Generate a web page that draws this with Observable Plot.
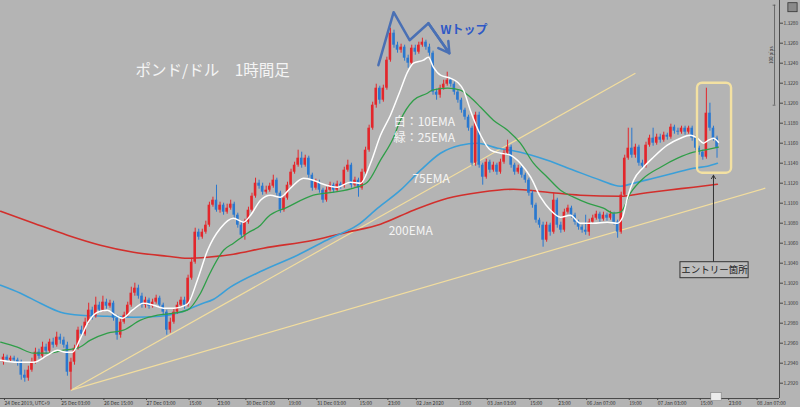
<!DOCTYPE html>
<html><head><meta charset="utf-8">
<script src="https://cdn.jsdelivr.net/npm/d3@7"></script>
<script src="https://cdn.jsdelivr.net/npm/@observablehq/plot@0.6"></script>
<style>
html,body{margin:0;padding:0;background:#b4b4b4;overflow:hidden}
svg{display:block}
</style></head><body><div id="chart"></div>
<script>
// GBP/USD hourly candles (prices)
const open = [1.2941,1.2946,1.2943,1.2945,1.2943,1.2941,1.2928,1.2925,1.2933,1.2941,
1.2951,1.2947,1.2956,1.2952,1.2961,1.2958,1.2966,1.2963,1.2958,1.2931,
1.2941,1.2955,1.2973,1.2969,1.2981,1.2993,1.2987,1.2998,1.2993,1.3001,
1.2997,1.3000,1.2985,1.2968,1.2981,1.2988,1.2998,1.3010,1.3015,1.3007,
1.2998,1.3003,1.2997,1.3001,1.3005,1.2998,1.2991,1.2973,1.2981,1.2991,
1.2998,1.3003,1.2998,1.3025,1.3041,1.3071,1.3066,1.3071,1.3078,1.3098,
1.3103,1.3093,1.3098,1.3091,1.3095,1.3099,1.3088,1.3078,1.3068,1.3081,
1.3093,1.3107,1.3120,1.3117,1.3111,1.3113,1.3117,1.3123,1.3110,1.3093,
1.3105,1.3118,1.3131,1.3138,1.3145,1.3138,1.3145,1.3128,1.3115,1.3121,
1.3113,1.3103,1.3113,1.3118,1.3113,1.3119,1.3117,1.3133,1.3138,1.3118,
1.3123,1.3115,1.3131,1.3153,1.3175,1.3198,1.3215,1.3203,1.3215,1.3243,
1.3270,1.3258,1.3253,1.3256,1.3245,1.3240,1.3255,1.3251,1.3258,1.3261,
1.3256,1.3250,1.3211,1.3208,1.3215,1.3219,1.3223,1.3219,1.3211,1.3203,
1.3193,1.3186,1.3175,1.3140,1.3188,1.3138,1.3126,1.3141,1.3133,1.3138,
1.3131,1.3141,1.3150,1.3156,1.3138,1.3131,1.3135,1.3128,1.3123,1.3110,
1.3098,1.3083,1.3078,1.3063,1.3078,1.3071,1.3103,1.3078,1.3073,1.3091,
1.3095,1.3088,1.3081,1.3076,1.3073,1.3071,1.3081,1.3085,1.3089,1.3084,
1.3088,1.3085,1.3089,1.3081,1.3071,1.3108,1.3145,1.3155,1.3148,1.3156,
1.3140,1.3137,1.3158,1.3165,1.3160,1.3166,1.3163,1.3168,1.3166,1.3176,
1.3172,1.3171,1.3175,1.3171,1.3175,1.3165,1.3155,1.3151,1.3146,1.3190,
1.3175,1.3165];
const high = [1.2949,1.2948,1.2947,1.2947,1.2945,1.2943,1.2933,1.2937,1.2945,1.2955,
1.2954,1.2961,1.2959,1.2964,1.2965,1.2971,1.2969,1.2966,1.2961,1.2945,
1.2958,1.2976,1.2977,1.2985,1.3000,1.2996,1.3006,1.3001,1.3007,1.3004,
1.3003,1.3002,1.2988,1.2984,1.2991,1.3001,1.3016,1.3020,1.3018,1.3010,
1.3006,1.3005,1.3004,1.3008,1.3007,1.3000,1.2993,1.2985,1.2994,1.3001,
1.3006,1.3006,1.3028,1.3045,1.3075,1.3074,1.3074,1.3082,1.3101,1.3106,
1.3118,1.3101,1.3100,1.3099,1.3103,1.3101,1.3090,1.3081,1.3084,1.3096,
1.3110,1.3125,1.3123,1.3120,1.3117,1.3120,1.3128,1.3125,1.3112,1.3108,
1.3121,1.3134,1.3141,1.3153,1.3151,1.3148,1.3147,1.3130,1.3124,1.3123,
1.3115,1.3116,1.3121,1.3120,1.3122,1.3121,1.3136,1.3143,1.3140,1.3126,
1.3125,1.3134,1.3156,1.3178,1.3201,1.3219,1.3217,1.3218,1.3246,1.3275,
1.3273,1.3261,1.3259,1.3258,1.3248,1.3258,1.3258,1.3261,1.3265,1.3263,
1.3259,1.3252,1.3214,1.3218,1.3223,1.3231,1.3225,1.3221,1.3213,1.3205,
1.3195,1.3188,1.3177,1.3191,1.3191,1.3140,1.3144,1.3143,1.3141,1.3140,
1.3144,1.3153,1.3163,1.3158,1.3140,1.3138,1.3137,1.3130,1.3125,1.3112,
1.3100,1.3085,1.3081,1.3081,1.3080,1.3110,1.3105,1.3081,1.3094,1.3098,
1.3097,1.3090,1.3083,1.3078,1.3088,1.3084,1.3088,1.3092,1.3091,1.3091,
1.3090,1.3092,1.3091,1.3083,1.3111,1.3148,1.3175,1.3175,1.3159,1.3158,
1.3143,1.3161,1.3168,1.3175,1.3169,1.3169,1.3171,1.3170,1.3179,1.3178,
1.3175,1.3177,1.3177,1.3177,1.3177,1.3167,1.3157,1.3153,1.3215,1.3200,
1.3177,1.3167];
const low = [1.2938,1.2941,1.2941,1.2940,1.2937,1.2923,1.2921,1.2922,1.2931,1.2939,
1.2944,1.2945,1.2949,1.2950,1.2955,1.2956,1.2959,1.2955,1.2927,1.2913,
1.2938,1.2953,1.2966,1.2967,1.2979,1.2983,1.2985,1.2990,1.2991,1.2994,
1.2995,1.2982,1.2963,1.2965,1.2979,1.2986,1.2996,1.3007,1.3004,1.2995,
1.2995,1.2994,1.2995,1.2999,1.2995,1.2988,1.2968,1.2970,1.2979,1.2989,
1.2996,1.2994,1.2996,1.3023,1.3039,1.3063,1.3064,1.3069,1.3076,1.3096,
1.3091,1.3090,1.3088,1.3089,1.3093,1.3085,1.3075,1.3065,1.3063,1.3079,
1.3091,1.3105,1.3114,1.3108,1.3109,1.3111,1.3115,1.3107,1.3090,1.3091,
1.3103,1.3116,1.3129,1.3136,1.3135,1.3136,1.3125,1.3112,1.3113,1.3110,
1.3100,1.3101,1.3111,1.3110,1.3111,1.3114,1.3115,1.3131,1.3115,1.3116,
1.3106,1.3113,1.3129,1.3151,1.3173,1.3195,1.3199,1.3201,1.3213,1.3241,
1.3255,1.3250,1.3250,1.3242,1.3235,1.3238,1.3248,1.3249,1.3256,1.3253,
1.3247,1.3208,1.3203,1.3205,1.3213,1.3217,1.3216,1.3208,1.3200,1.3190,
1.3183,1.3172,1.3137,1.3137,1.3135,1.3118,1.3124,1.3130,1.3131,1.3128,
1.3129,1.3139,1.3148,1.3135,1.3128,1.3129,1.3125,1.3120,1.3107,1.3095,
1.3080,1.3075,1.3056,1.3061,1.3067,1.3069,1.3075,1.3070,1.3071,1.3089,
1.3085,1.3078,1.3073,1.3070,1.3068,1.3067,1.3079,1.3083,1.3081,1.3082,
1.3082,1.3083,1.3078,1.3065,1.3069,1.3106,1.3143,1.3145,1.3145,1.3137,
1.3134,1.3135,1.3156,1.3157,1.3158,1.3160,1.3161,1.3163,1.3164,1.3169,
1.3168,1.3169,1.3168,1.3169,1.3162,1.3152,1.3148,1.3143,1.3144,1.3172,
1.3162,1.3145];
const close = [1.2946,1.2943,1.2945,1.2943,1.2941,1.2928,1.2925,1.2933,1.2941,1.2951,
1.2947,1.2956,1.2952,1.2961,1.2958,1.2966,1.2963,1.2958,1.2931,1.2941,
1.2955,1.2973,1.2969,1.2981,1.2993,1.2987,1.2998,1.2993,1.3001,1.2997,
1.3000,1.2985,1.2968,1.2981,1.2988,1.2998,1.3010,1.3015,1.3007,1.2998,
1.3003,1.2997,1.3001,1.3005,1.2998,1.2991,1.2973,1.2981,1.2991,1.2998,
1.3003,1.2998,1.3025,1.3041,1.3071,1.3066,1.3071,1.3078,1.3098,1.3103,
1.3093,1.3098,1.3091,1.3095,1.3099,1.3088,1.3078,1.3068,1.3081,1.3093,
1.3107,1.3120,1.3117,1.3111,1.3113,1.3117,1.3123,1.3110,1.3093,1.3105,
1.3118,1.3131,1.3138,1.3145,1.3138,1.3145,1.3128,1.3115,1.3121,1.3113,
1.3103,1.3113,1.3118,1.3113,1.3119,1.3117,1.3133,1.3138,1.3118,1.3123,
1.3115,1.3131,1.3153,1.3175,1.3198,1.3215,1.3203,1.3215,1.3243,1.3270,
1.3258,1.3253,1.3256,1.3245,1.3240,1.3255,1.3251,1.3258,1.3261,1.3256,
1.3250,1.3211,1.3208,1.3215,1.3219,1.3223,1.3219,1.3211,1.3203,1.3193,
1.3186,1.3175,1.3140,1.3188,1.3138,1.3126,1.3141,1.3133,1.3138,1.3131,
1.3141,1.3150,1.3156,1.3138,1.3131,1.3135,1.3128,1.3123,1.3110,1.3098,
1.3083,1.3078,1.3063,1.3078,1.3071,1.3103,1.3078,1.3073,1.3091,1.3095,
1.3088,1.3081,1.3076,1.3073,1.3071,1.3081,1.3085,1.3089,1.3084,1.3088,
1.3085,1.3089,1.3081,1.3071,1.3108,1.3145,1.3155,1.3148,1.3156,1.3140,
1.3137,1.3158,1.3165,1.3160,1.3166,1.3163,1.3168,1.3166,1.3176,1.3172,
1.3171,1.3175,1.3171,1.3175,1.3165,1.3155,1.3151,1.3146,1.3190,1.3175,
1.3165,1.3155];

// EMA lines (candle index, price)
const ema10X = [-0.8,3.9,8.5,12.4,15.2,17.5,19.4,21.7,23.7,26.5,29.3,31.5,33.5,36.3,39.4,42.3,45.1,47.9,51.8,54.6,57.5,61.1,64.8,67.6,69.6,72.4,75.2,78.0,80.8,84.5,87.3,89.3,94.1,97.7,100.6,103.4,106.2,109.0,111.8,113.8,115.5,118.3,119.7,121.1,123.1,125.9,127.9,129.6,131.5,134.4,137.2,140.0,142.8,145.6,148.5,151.3,154.1,156.9,159.7,162.5,166.2,170.1,172.9,174.4,175.8,177.5,180.3,183.1,187.0,190.7,193.5,195.5,197.2,198.6,200.0,201.4];
const ema10 = [1.2943,1.2941,1.2941,1.2948,1.2953,1.2951,1.2951,1.2965,1.2980,1.2991,1.2993,1.2988,1.2985,1.2993,1.3000,1.2998,1.2995,1.2995,1.2999,1.3023,1.3053,1.3075,1.3085,1.3081,1.3088,1.3103,1.3108,1.3106,1.3115,1.3125,1.3123,1.3120,1.3116,1.3121,1.3120,1.3140,1.3168,1.3188,1.3213,1.3231,1.3240,1.3243,1.3246,1.3236,1.3228,1.3225,1.3221,1.3213,1.3193,1.3168,1.3153,1.3150,1.3148,1.3140,1.3126,1.3106,1.3093,1.3086,1.3088,1.3080,1.3080,1.3081,1.3080,1.3086,1.3106,1.3123,1.3136,1.3146,1.3158,1.3165,1.3168,1.3165,1.3160,1.3163,1.3165,1.3161];
const ema25X = [-0.8,3.9,8.5,12.4,16.9,20.8,24.5,29.3,33.8,38.6,43.4,47.9,51.8,55.5,58.3,62.0,64.8,68.7,72.4,74.4,80.0,87.3,93.0,98.6,102.5,106.2,109.9,111.8,115.5,119.4,120.8,125.1,128.7,131.5,134.4,138.0,142.0,145.6,149.3,153.2,156.9,160.6,164.5,169.0,171.8,173.8,176.6,180.3,185.1,189.9,194.4,197.2,201.4];
const ema25 = [1.2961,1.2956,1.2950,1.2950,1.2953,1.2955,1.2963,1.2970,1.2973,1.2983,1.2988,1.2990,1.2993,1.3010,1.3031,1.3053,1.3060,1.3070,1.3078,1.3086,1.3096,1.3108,1.3111,1.3115,1.3121,1.3143,1.3166,1.3183,1.3203,1.3210,1.3213,1.3215,1.3213,1.3206,1.3196,1.3183,1.3173,1.3160,1.3140,1.3126,1.3113,1.3106,1.3100,1.3095,1.3090,1.3091,1.3110,1.3125,1.3136,1.3145,1.3151,1.3153,1.3156];
const ema75X = [-0.8,4.8,10.4,16.1,21.7,29.3,36.6,44.2,49.9,55.5,59.2,63.9,73.2,82.8,92.1,99.7,105.4,111.8,117.5,123.1,128.7,133.5,139.2,145.6,153.2,160.6,168.2,173.8,177.5,183.1,188.7,194.4,198.3,201.1];
const ema75 = [1.3018,1.3010,1.3000,1.2991,1.2988,1.2987,1.2986,1.2987,1.2991,1.2999,1.3004,1.3016,1.3033,1.3048,1.3065,1.3078,1.3095,1.3113,1.3133,1.3150,1.3158,1.3160,1.3155,1.3151,1.3143,1.3133,1.3123,1.3117,1.3120,1.3125,1.3130,1.3135,1.3137,1.3140];
const ema200X = [-0.8,8.5,18.0,27.3,36.6,46.2,51.8,57.5,64.8,73.2,87.3,96.9,106.2,115.5,125.1,134.4,143.7,153.2,162.5,173.8,180.3,187.0,194.4,201.1];
const ema200 = [1.3092,1.3080,1.3068,1.3058,1.3051,1.3047,1.3045,1.3046,1.3049,1.3055,1.3063,1.3071,1.3079,1.3093,1.3105,1.3111,1.3114,1.3111,1.3108,1.3107,1.3110,1.3113,1.3116,1.3119];

// axis ticks
const xTickIdx = [0,16,28,40,52,60,68,80,88,100,108,116,128,136,148,156,164,176,184,196,204,212];
const xTickLabels = ["24 Dec 2019, UTC+9","25 Dec 03:00","26 Dec 15:00","27 Dec 03:00","15:00","23:00","30 Dec 07:00","19:00","31 Dec 03:00","15:00","23:00","02 Jan 2020","19:00","03 Jan 03:00","15:00","23:00","06 Jan 07:00","19:00","07 Jan 03:00","15:00","23:00","08 Jan 07:00"];
const yTicks = [1.2920,1.2940,1.2960,1.2980,1.3000,1.3020,1.3040,1.3060,1.3080,1.3100,1.3120,1.3140,1.3160,1.3180,1.3200,1.3220,1.3240,1.3260,1.3280];

// trend lines & annotation anchors (candle index, price)
const trendLines = [
  {x1: 19, y1: 1.2913, x2: 178, y2: 1.3230},
  {x1: 19, y1: 1.2913, x2: 214.6, y2: 1.3115}
];
const wTopX = [105.6, 109.9, 114.4, 119.7, 125.6];
const wTopY = [1.3238, 1.3291, 1.3263, 1.3280, 1.3250];

const XMIN = -0.845, XMAX = 218.6, YMIN = 1.29047, YMAX = 1.33027;
const RED = "#e3262b", BLUE = "#2a78cf";

const candles = d3.range(close.length).map(i => ({i, o: open[i], h: high[i], l: low[i], c: close[i]}));
const col = d => d.c >= d.o ? RED : BLUE;
const line = (xs, ys) => xs.map((x, k) => ({x, y: ys[k]}));
const tickLabel = new Map(xTickIdx.map((t, k) => [t, xTickLabels[k]]));
const wPts = line(wTopX, wTopY);

const chart = Plot.plot({
  width: 800, height: 407,
  marginTop: 0, marginRight: 21, marginBottom: 9, marginLeft: 0,
  x: {type: "linear", domain: [XMIN, XMAX], axis: null},
  y: {domain: [YMIN, YMAX], axis: null},
  style: {background: "#b4b4b4", fontFamily: "'Noto Sans CJK JP', 'Noto Sans', sans-serif", fontSize: "5px", overflow: "visible"},
  marks: [
    Plot.link(trendLines, {x1: "x1", y1: "y1", x2: "x2", y2: "y2", stroke: "#f2dd9e", strokeWidth: 1.2}),
    Plot.line(line(ema200X, ema200), {x: "x", y: "y", stroke: "#d22f2c", strokeWidth: 1.6, curve: "monotone-x"}),
    Plot.line(line(ema75X, ema75), {x: "x", y: "y", stroke: "#3b9fd8", strokeWidth: 1.6, curve: "monotone-x"}),
    Plot.ruleX(candles, {x: "i", y1: "l", y2: "h", stroke: col, strokeWidth: 1}),
    Plot.rect(candles, {x1: d => d.i - 0.36, x2: d => d.i + 0.36, y1: "o", y2: "c", fill: col}),
    Plot.line(line(ema25X, ema25), {x: "x", y: "y", stroke: "#2f9e48", strokeWidth: 1.3, curve: "monotone-x"}),
    Plot.line(line(ema10X, ema10), {x: "x", y: "y", stroke: "#ffffff", strokeWidth: 1.5, curve: "monotone-x"}),
    // axes
    Plot.ruleY([YMIN], {stroke: "#4a4a4a", strokeWidth: 1}),
    Plot.ruleX([XMAX], {stroke: "#4a4a4a", strokeWidth: 1}),
    Plot.axisX(xTickIdx, {anchor: "bottom", tickSize: 2, tickPadding: 1, textAnchor: "start", dx: 1, fontSize: 5, tickFormat: t => tickLabel.get(t), stroke: "#444", fill: "#333"}),
    Plot.axisY(yTicks, {anchor: "right", tickSize: 3, tickPadding: 1, fontSize: 4.8, tickFormat: d => d.toFixed(4), stroke: "#444", fill: "#333"}),
    // 100 pips bracket
    Plot.ruleX([217.2], {y1: 1.3198, y2: 1.3298, stroke: "#555", strokeWidth: 0.8}),
    Plot.ruleY([1.3198, 1.3298], {x1: 216.8, x2: 217.6, stroke: "#555", strokeWidth: 0.8}),
    Plot.text(["100 pips"], {x: 216.3, y: 1.3248, rotate: -90, fontSize: 4.5, fill: "#333"}),
    Plot.rect([0], {x1: 221.1, x2: 223.7, y1: 1.3291, y2: 1.3300, fill: "#8a8a8a", stroke: "#333", strokeWidth: 0.8}),
    // crosshair time label on axis
    Plot.rect([0], {x1: 199.4, x2: 202.3, y1: 1.2902, y2: 1.2910, fill: "#ececec", stroke: "#777", strokeWidth: 0.5}),
    // W top annotation
    Plot.line(wPts, {x: "x", y: "y", stroke: "#4a70b4", strokeWidth: 2.5}),
    Plot.arrow([0], {x1: wTopX[3], y1: wTopY[3], x2: wTopX[4], y2: wTopY[4], stroke: "#4a70b4", strokeWidth: 2.5, headLength: 9}),
    Plot.text(["Wトップ"], {x: 123.1, y: 1.3273, textAnchor: "start", fontSize: 12, fontWeight: "bold", fill: "#2e58c6"}),
    // title and EMA labels
    Plot.text(["ポンド/ドル\u30001時間足"], {x: 37.2, y: 1.3232, textAnchor: "start", fontSize: 15.5, fill: "#f4f4f4"}),
    Plot.text(["白：10EMA"], {x: 109.9, y: 1.3181, textAnchor: "start", fontSize: 12, fill: "#f4f4f4"}),
    Plot.text(["緑：25EMA"], {x: 109.9, y: 1.3165, textAnchor: "start", fontSize: 12, fill: "#f4f4f4"}),
    Plot.text(["75EMA"], {x: 115.2, y: 1.3124, textAnchor: "start", fontSize: 12, fill: "#f4f4f4"}),
    Plot.text(["200EMA"], {x: 108.5, y: 1.3072, textAnchor: "start", fontSize: 12, fill: "#f4f4f4"}),
    // entry box, arrow and label
    Plot.rect([0], {x1: 195.5, x2: 205.1, y1: 1.3130, y2: 1.3220, rx: 5, fill: "none", stroke: "#f3e1a2", strokeWidth: 2.4}),
    Plot.arrow([0], {x1: 200.0, y1: 1.3041, x2: 200.0, y2: 1.3128, stroke: "#333", strokeWidth: 1, headLength: 6}),
    Plot.rect([0], {x1: 190.7, x2: 209.9, y1: 1.3025, y2: 1.3041, fill: "#bdbdbd", stroke: "#333", strokeWidth: 1}),
    Plot.text(["エントリー箇所"], {x: 200.3, y: 1.3033, fontSize: 9.5, fill: "#222"})
  ]
});
document.getElementById("chart").append(chart);
</script>
</body></html>
